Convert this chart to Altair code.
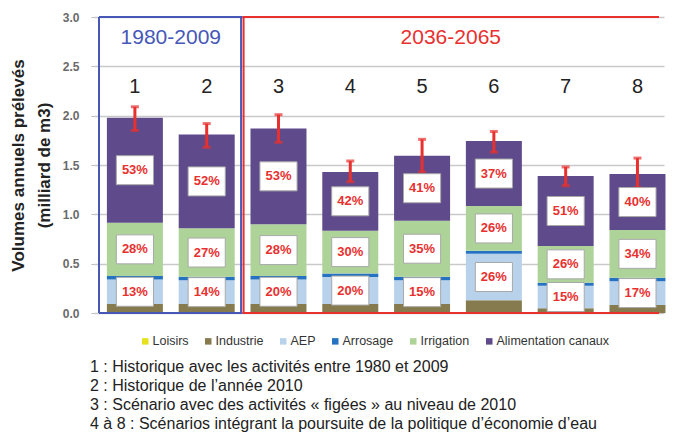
import altair as alt
import pandas as pd

# ---------------- data ----------------
scenarios = [1, 2, 3, 4, 5, 6, 7, 8]
scenario_labels = ["1", "2", "3", "4", "5", "6", "7", "8"]
components = ["Loisirs", "Industrie", "AEP", "Arrosage", "Irrigation", "Alimentation canaux"]
comp_colors = ["#E6E21E", "#857B4E", "#B9D2EC", "#2672C2", "#AED398", "#5F4B8B"]

loisirs = [0.0, 0.0, 0.0, 0.0, 0.0, 0.0, 0.0, 0.0]
industrie = [0.09, 0.09, 0.09, 0.09, 0.09, 0.13, 0.047, 0.081]
aep = [0.25, 0.243, 0.25, 0.275, 0.243, 0.47, 0.23, 0.242]
arrosage = [0.035, 0.035, 0.035, 0.035, 0.035, 0.03, 0.03, 0.035]
irrigation = [0.54, 0.49, 0.525, 0.434, 0.567, 0.454, 0.372, 0.483]
canaux = [1.065, 0.952, 0.97, 0.596, 0.659, 0.659, 0.709, 0.567]

err_low = [1.85, 1.68, 1.73, 1.33, 1.43, 1.63, 1.29, 1.27]
err_high = [2.09, 1.92, 2.01, 1.54, 1.76, 1.84, 1.48, 1.57]

pct_canaux = ["53%", "52%", "53%", "42%", "41%", "37%", "51%", "40%"]
pct_irrigation = ["28%", "27%", "28%", "30%", "35%", "26%", "26%", "34%"]
pct_aep = ["13%", "14%", "20%", "20%", "15%", "26%", "15%", "17%"]

groups = ["1980-2009", "2036-2065"]
group_start = [0.5, 2.5]
group_end = [2.5, 8.3]
group_colors = ["#4657B8", "#E8312F"]

footnotes = [
    "1 : Historique avec les activités entre 1980 et 2009",
    "2 : Historique de l’année 2010",
    "3 : Scénario avec des activités « figées » au niveau de 2010",
    "4 à 8 : Scénarios intégrant la poursuite de la politique d’économie d’eau",
]
y_title = ["Volumes annuels prélevés", "(milliard de m3)"]

RED = "#E8312F"
FONT = "Liberation Sans"

# ---------------- tables ----------------
series = [loisirs, industrie, aep, arrosage, irrigation, canaux]
rows = []
for i, s in enumerate(scenarios):
    for k, (name, vals) in enumerate(zip(components, series)):
        rows.append({"scenario": s, "component": name, "value": vals[i], "order": k})
df = pd.DataFrame(rows)

err_df = pd.DataFrame({"scenario": scenarios, "lo": err_low, "hi": err_high})

lab_rows = []
for i, s in enumerate(scenarios):
    base_aep = loisirs[i] + industrie[i]
    top_aep = base_aep + aep[i]
    base_irr = top_aep + arrosage[i]
    top_irr = base_irr + irrigation[i]
    top_can = top_irr + canaux[i]
    lab_rows.append({"scenario": s, "mid": (base_aep + top_aep) / 2, "txt": pct_aep[i]})
    lab_rows.append({"scenario": s, "mid": (base_irr + top_irr) / 2, "txt": pct_irrigation[i]})
    lab_rows.append({"scenario": s, "mid": (top_irr + top_can) / 2, "txt": pct_canaux[i]})
lab_df = pd.DataFrame(lab_rows)

num_df = pd.DataFrame({"scenario": scenarios, "lab": scenario_labels})

# ---------------- scales ----------------
xs = alt.Scale(domain=[0.5, 8.3], nice=False, zero=False)
ys = alt.Scale(domain=[0, 3], nice=False)

X = alt.X("scenario:Q", scale=xs, axis=None)

bars = alt.Chart(df).mark_bar(size=56).encode(
    x=X,
    y=alt.Y(
        "value:Q",
        stack="zero",
        scale=ys,
        title=y_title,
        axis=alt.Axis(
            values=[0, 0.5, 1.0, 1.5, 2.0, 2.5, 3.0],
            format=".1f",
            grid=True,
            gridColor="#C9C9C9",
            gridWidth=1.5,
            domain=False,
            tickSize=3,
            tickColor="#BBBBBB",
            labelPadding=12,
            labelFont=FONT,
            labelFontSize=12,
            labelFontWeight="bold",
            labelColor="#6A6A6A",
            titleFont=FONT,
            titleFontSize=17,
            titleFontWeight="bold",
            titleColor="#222222",
            titleLineHeight=26,
            titlePadding=9,
        ),
    ),
    color=alt.Color(
        "component:N",
        scale=alt.Scale(domain=components, range=comp_colors),
        legend=alt.Legend(
            title=None,
            orient="none",
            legendX=45,
            legendY=318,
            direction="horizontal",
            symbolType="square",
            symbolSize=42,
            symbolStrokeWidth=0,
            labelFont=FONT,
            labelFontSize=12.5,
            labelColor="#333333",
            columnPadding=13,
            labelOffset=1,
        ),
    ),
    order=alt.Order("order:Q"),
)

err_rule = alt.Chart(err_df).mark_rule(color=RED, strokeWidth=3).encode(
    x=X, y=alt.Y("lo:Q", scale=ys), y2="hi:Q"
)
err_caps = alt.Chart(err_df).transform_fold(["lo", "hi"], as_=["k", "v"]).mark_tick(
    orient="horizontal", color=RED, size=8, thickness=3
).encode(x=X, y=alt.Y("v:Q", scale=ys))

box_path = "M-1.28,-1L1.28,-1L1.28,1L-1.28,1Z"
boxes = alt.Chart(lab_df).mark_point(
    shape=box_path, size=841, filled=True, fill="white", stroke="#A8A8A8",
    strokeWidth=1, opacity=1
).encode(x=X, y=alt.Y("mid:Q", scale=ys))
box_text = alt.Chart(lab_df).mark_text(
    color=RED, font=FONT, fontSize=13, fontWeight="bold", baseline="middle", align="center"
).encode(x=X, y=alt.Y("mid:Q", scale=ys), text="txt:N")

numbers = alt.Chart(num_df).mark_text(
    font=FONT, fontSize=20, color="#222222", baseline="middle", align="center"
).encode(x=X, y=alt.datum(2.29), text="lab:N")

layers = [bars, err_rule, err_caps, boxes, box_text, numbers]

for g, s0, s1, col in zip(groups, group_start, group_end, group_colors):
    gdf = pd.DataFrame({"g": [g], "s0": [s0], "s1": [s1], "mid": [(s0 + s1) / 2]})
    base = alt.Chart(gdf)
    layers.append(base.mark_rule(color=col, strokeWidth=2).encode(
        x=alt.X("s0:Q", scale=xs, axis=None), x2="s1:Q", y=alt.datum(3)))
    layers.append(base.mark_rule(color=col, strokeWidth=2).encode(
        x=alt.X("s0:Q", scale=xs, axis=None), x2="s1:Q", y=alt.datum(0)))
    layers.append(base.mark_rule(color=col, strokeWidth=2, xOffset=1 if s0 > 1 else 0).encode(
        x=alt.X("s0:Q", scale=xs, axis=None), y=alt.datum(0), y2=alt.datum(3)))
    if s1 < 8:
        layers.append(base.mark_rule(color=col, strokeWidth=2, xOffset=-1.5).encode(
            x=alt.X("s1:Q", scale=xs, axis=None), y=alt.datum(0), y2=alt.datum(3)))
    layers.append(base.mark_text(
        color=col, font=FONT, fontSize=21, baseline="middle", align="center"
    ).encode(x=alt.X("mid:Q", scale=xs, axis=None), y=alt.datum(2.79), text="g:N"))

chart = alt.layer(*layers).properties(
    width=570,
    height=296,
    padding={"left": 1, "top": 3, "right": 0, "bottom": 0},
    title=alt.TitleParams(
        text=footnotes,
        orient="bottom",
        anchor="start",
        frame="group",
        font=FONT,
        fontSize=16,
        fontWeight="normal",
        color="#222222",
        lineHeight=19,
        offset=11,
        dx=-4,
    ),
).configure_view(stroke=None)

chart.save("out.html", embed_options={"renderer": "svg", "actions": False})
